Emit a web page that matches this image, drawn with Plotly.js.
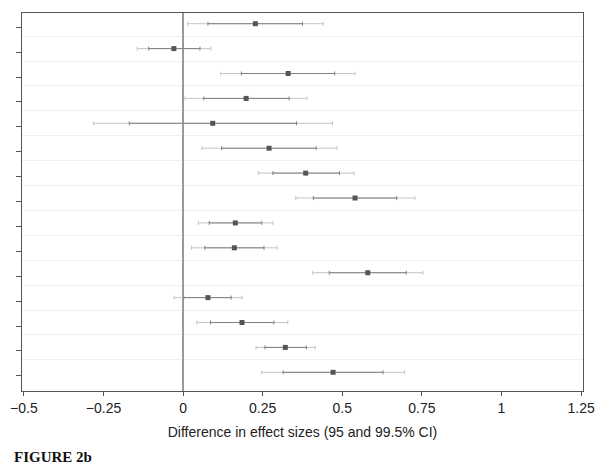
<!DOCTYPE html>
<html>
<head>
<meta charset="utf-8">
<script src="https://cdn.plot.ly/plotly-3.0.1.min.js"></script>
<style>html,body{margin:0;padding:0;background:#fff;}#chart{width:604px;height:473px;}</style>
</head>
<body>
<div id="chart"></div>
<script>
// Rows listed top to bottom
var rows   = [15, 14, 13, 12, 11, 10, 9, 8, 7, 6, 5, 4, 3, 2, 1];
var est    = [0.227, -0.029, 0.330, 0.198, 0.093, 0.270, 0.385, 0.540, 0.164, 0.161, 0.580, 0.078, 0.185, 0.321, 0.471];
var lo95   = [0.078, -0.108, 0.183, 0.065, -0.169, 0.121, 0.282, 0.409, 0.082, 0.068, 0.459, 0.002, 0.086, 0.257, 0.314];
var hi95   = [0.375, 0.053, 0.476, 0.333, 0.356, 0.418, 0.491, 0.671, 0.247, 0.254, 0.701, 0.151, 0.285, 0.387, 0.628];
var lo995  = [0.014, -0.144, 0.118, 0.006, -0.281, 0.059, 0.236, 0.354, 0.048, 0.026, 0.407, -0.028, 0.043, 0.229, 0.247];
var hi995  = [0.440, 0.087, 0.540, 0.389, 0.469, 0.483, 0.537, 0.728, 0.282, 0.295, 0.753, 0.185, 0.329, 0.415, 0.695];
var xTicks = [-0.5, -0.25, 0, 0.25, 0.5, 0.75, 1, 1.25];
var xTickLabels = ['\u22120.5', '\u22120.25', '0', '0.25', '0.5', '0.75', '1', '1.25'];

var boundaries = rows.slice(1).map(function(r){ return r + 0.5; });
var rowTicks = rows.map(function(r){ return r - 0.14; });

var outer = {
  type: 'scatter', mode: 'markers', x: est, y: rows,
  marker: {color: 'rgba(0,0,0,0)', size: 1},
  error_x: {type: 'data', symmetric: false,
    array: est.map(function(v,i){ return hi995[i] - v; }),
    arrayminus: est.map(function(v,i){ return v - lo995[i]; }),
    color: '#c4c4c4', thickness: 1, width: 2},
  hoverinfo: 'skip', showlegend: false
};
var inner = {
  type: 'scatter', mode: 'markers', x: est, y: rows,
  marker: {color: '#555555', size: 5, symbol: 'square'},
  error_x: {type: 'data', symmetric: false,
    array: est.map(function(v,i){ return hi95[i] - v; }),
    arrayminus: est.map(function(v,i){ return v - lo95[i]; }),
    color: '#808080', thickness: 1, width: 2},
  showlegend: false
};

var layout = {
  width: 604, height: 473,
  margin: {l: 22, r: 21, t: 13, b: 82},
  paper_bgcolor: '#fff', plot_bgcolor: '#fff',
  font: {family: 'Liberation Sans, Arial, sans-serif', color: '#222', size: 14},
  xaxis: {
    range: [-0.506, 1.256],
    tickmode: 'array', tickvals: xTicks, ticktext: xTickLabels,
    ticks: 'outside', ticklen: 4, tickcolor: '#555', tickwidth: 1,
    showgrid: false,
    zeroline: true, zerolinecolor: '#9a9a9a', zerolinewidth: 1.3,
    showline: true, mirror: true, linecolor: '#555', linewidth: 1,
    tickfont: {size: 14, color: '#222'},
    title: {text: 'Difference in effect sizes (95 and 99.5% CI)', font: {size: 14, color: '#222'}, standoff: 12}
  },
  yaxis: {
    range: [0.25, 15.43],
    tickmode: 'array', tickvals: boundaries,
    ticks: '', showticklabels: false,
    showgrid: true, gridcolor: '#efefef', gridwidth: 1,
    zeroline: false,
    showline: true, mirror: true, linecolor: '#555', linewidth: 1,
    minor: {tickmode: 'array', tickvals: rowTicks, ticks: 'outside', ticklen: 5, tickcolor: '#555', tickwidth: 1, showgrid: false}
  },
  annotations: [{
    text: '<b>FIGURE 2b</b>', xref: 'paper', yref: 'paper',
    x: -0.018, y: -0.175, xanchor: 'left', yanchor: 'middle', showarrow: false,
    font: {family: 'Liberation Serif, Times New Roman, serif', size: 15, color: '#111'}
  }]
};

Plotly.newPlot('chart', [outer, inner], layout, {displayModeBar: false, staticPlot: true});
</script>
</body>
</html>
